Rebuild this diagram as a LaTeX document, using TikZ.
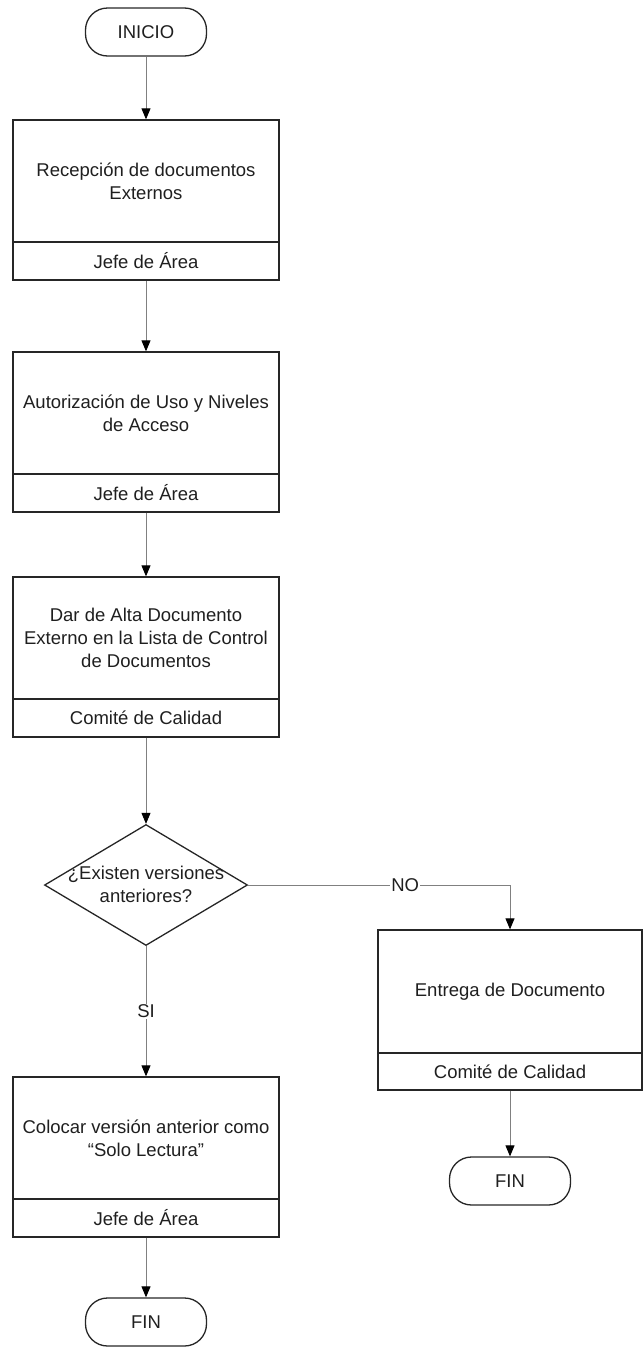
\documentclass[tikz,border=0pt]{standalone}
\usepackage{fontspec}
\setmainfont{Liberation Sans}
\usetikzlibrary{shapes.geometric,arrows.meta}

\begin{document}
\begin{tikzpicture}[x=1pt,y=-1pt,
  txt/.style={font=\fontsize{18.5}{23}\selectfont, text=black!88, align=center},
  task/.style={txt, draw=black!85, line width=1.3pt, minimum width=266pt,
    minimum height=122pt, inner sep=0pt},
  role/.style={task, minimum height=38pt},
  term/.style={txt, draw=black!85, line width=1.3pt, rounded corners=22pt,
    minimum width=121pt, minimum height=48pt, inner sep=0pt},
  decision/.style={diamond, draw=black!85, line width=1.3pt,
    minimum width=203pt, minimum height=121pt, inner sep=0pt},
  flow/.style={draw=black!50, line width=0.9pt,
    -{Triangle[length=11pt,width=9pt,color=black]}},
  tag/.style={txt, fill=white, inner sep=1pt}
]
\useasboundingbox (0,0) rectangle (643,1347);

% start
\node[term] (start) at (146,32) {INICIO};

% left column of activities
\node[task] (t1) at (146,181) {Recepción de documentos\\Externos};
\node[role] (r1) at (146,261) {Jefe de Área};

\node[task] (t2) at (146,413) {Autorización de Uso y Niveles\\de Acceso};
\node[role] (r2) at (146,493) {Jefe de Área};

\node[task] (t3) at (146,638) {Dar de Alta Documento\\Externo en la Lista de Control\\de Documentos};
\node[role] (r3) at (146,718) {Comité de Calidad};

% decision
\node[decision] (q) at (146,885) {};
\node[txt] (qtxt) at (146,884) {¿Existen versiones\\anteriores?};

% branch SI
\node[task] (t4) at (146,1138) {Colocar versión anterior como\\“Solo Lectura”};
\node[role] (r4) at (146,1218) {Jefe de Área};
\node[term] (end1) at (146,1322) {FIN};

% branch NO
\node[task, minimum width=264pt, minimum height=123pt] (t5) at (510,991.5) {Entrega de Documento};
\node[role, minimum width=264pt, minimum height=37pt] (r5) at (510,1071.5) {Comité de Calidad};
\node[term] (end2) at (510,1181) {FIN};

% connectors
\draw[flow] (start) -- (t1);
\draw[flow] (r1) -- (t2);
\draw[flow] (r2) -- (t3);
\draw[flow] (r3) -- (q);
\draw[flow] (q.south) -- node[tag, pos=0.5] {SI} (t4.north);
\draw[flow] (q.east) -| node[tag, pos=0.3] {NO} (t5.north);
\draw[flow] (r4) -- (end1);
\draw[flow] (r5) -- (end2);
\end{tikzpicture}
\end{document}
